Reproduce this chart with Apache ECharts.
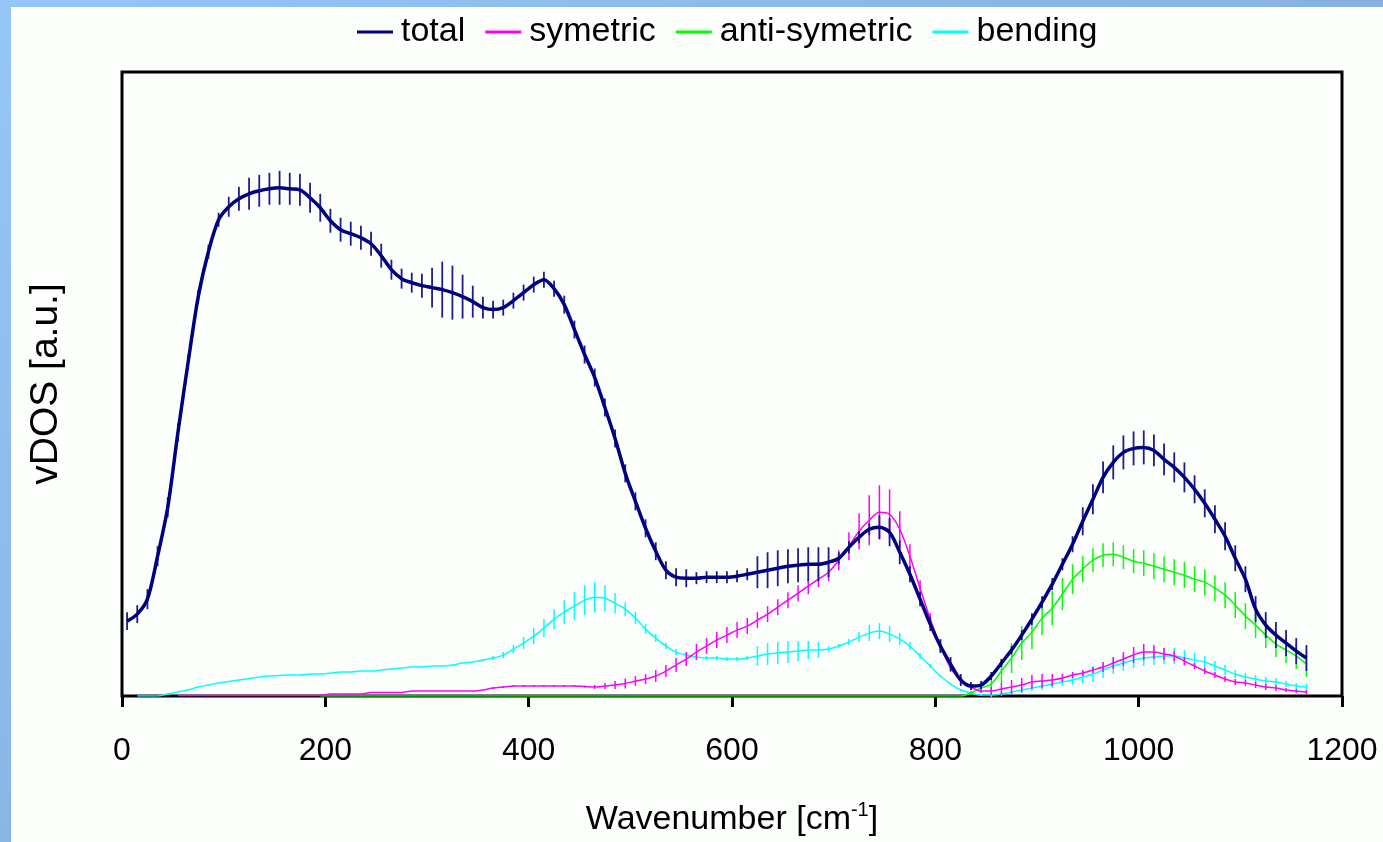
<!DOCTYPE html>
<html>
<head>
<meta charset="utf-8">
<script src="https://cdn.jsdelivr.net/npm/echarts@6/dist/echarts.min.js"></script>
<style>
html,body{margin:0;padding:0;background:#fdfffd;}
#chart{width:1383px;height:842px;}
</style>
</head>
<body>
<div id="chart"></div>
<script>
// Wavenumber samples [cm^-1]
const wavenumber = [
  5,15,25,35,45,55,65,75,85,95,
  105,115,125,135,145,155,165,175,185,195,
  205,215,225,235,245,255,265,275,285,295,
  305,315,325,335,345,355,365,375,385,395,
  405,415,425,435,445,455,465,475,485,495,
  505,515,525,535,545,555,565,575,585,595,
  605,615,625,635,645,655,665,675,685,695,
  705,715,725,735,745,755,765,775,785,795,
  805,815,825,835,845,855,865,875,885,895,
  905,915,925,935,945,955,965,975,985,995,
  1005,1015,1025,1035,1045,1055,1065,1075,1085,1095,
  1105,1115,1125,1135,1145,1155,1165
];
// vDOS values [a.u.]
const total = [
  75,82,97,140,189,264,334,400,445,477,
  490,498,503,506,508,509,508,507,499,489,
  476,467,463,459,453,441,427,418,414,411,
  409,407,404,400,395,389,387,389,396,404,
  412,417,408,392,367,342,319,289,258,223,
  195,168,145,126,119,118,118,119,119,119,
  120,122,124,126,128,130,131,132,132,134,
  138,149,159,167,169,164,144,122,97,72,
  50,32,16,10,11,20,33,46,61,77,
  94,112,132,152,175,197,219,234,244,248,
  249,246,237,229,219,207,193,177,160,138,
  117,87,71,61,53,45,38
];
const totalErr = [
  9,9,10,10,10,9,7,7,7,7,
  10,12,16,16,16,17,16,16,15,14,
  12,12,12,12,12,12,10,10,10,12,
  20,28,27,22,16,11,9,8,8,8,
  8,8,8,9,9,9,9,9,9,9,
  9,9,9,9,9,9,6,6,6,6,
  6,6,16,18,18,17,17,17,17,15,
  6,6,6,6,12,14,12,8,7,7,
  7,7,6,4,4,4,4,4,5,6,
  6,6,6,8,14,15,16,17,17,17,
  17,16,16,15,15,14,14,14,14,13,
  13,13,13,13,13,13,13
];
const symetric = [
  null,null,null,null,null,0.5,0.5,0.5,0.5,0.5,
  0.5,0.5,0.5,0.5,0.5,0.5,0.5,0.5,0.5,0.5,
  2,2,2,2,3.5,3.5,3.5,3.5,5,5,
  5,5,5,5,5,6,8,9,10,10,
  10,10,10,10,10,9.5,9,10,11,12.5,
  15,17,20,25,31,37,44,50,56,61,
  66,70,76,82,89,96,103,110,117,124,
  136,150,165,176,184,182,167,140,108,77,
  50,28,16,9,5,5,7,9,11,14,
  15,16,18,21,23,26,29,33,37,41,
  44,44,42,40,35,30,25,21,17,14,
  13,11,9,8,6,5,4
];
const symetricErr = [
  0,0,0,0,0,0,0,0,0,0,
  0,0,0,0,0,0,0,0,0,0,
  0,0,0,0,0,0,0,0,0,0,
  0,0,0,0,0,0,1,1,1,1,
  1,1,1,1,1,1,2,3,4,5,
  5,5,6,6,7,7,8,8,8,8,
  8,8,8,8,8,8,8,8,8,9,
  10,14,18,25,27,25,18,12,8,6,
  5,4,3,2,2,4,6,7,7,7,
  7,6,4,3,3,3,5,6,7,8,
  8,7,6,5,4,3,3,3,3,3,
  3,3,3,3,2,2,2
];
const antiSymetric = [
  null,null,null,null,null,null,null,null,null,null,
  null,null,null,null,null,null,null,null,null,0,
  0,0,0,0,0,0,0,0,0,0,
  0,0,0,0,0,0,0,0,0,0,
  0,0,0,0,0,0,0,0,0,0,
  0,0,0,0,0,0,0,0,0,0,
  0,0,0,0,0,0,0,0,0,0,
  0,0,0,0,0,0,0,0,0,0,
  0,0,0,3,8,12,25,38,53,64,
  78,88,102,117,127,136,141,142,139,135,
  133,130,127,124,121,117,114,108,101,91,
  80,71,61,52,46,40,32
];
const antiSymetricErr = [
  0,0,0,0,0,0,0,0,0,0,
  0,0,0,0,0,0,0,0,0,0,
  0,0,0,0,0,0,0,0,0,0,
  0,0,0,0,0,0,0,0,0,0,
  0,0,0,0,0,0,0,0,0,0,
  0,0,0,0,0,0,0,0,0,0,
  0,0,0,0,0,0,0,0,0,0,
  0,0,0,0,0,0,0,0,0,0,
  0,0,0,2,5,8,12,15,17,17,
  17,17,16,15,13,12,12,12,12,12,
  13,13,13,13,13,13,13,13,13,13,
  13,13,13,13,13,13,13
];
const bending = [
  null,0,0,0,2,4,6,9,11,13,
  14.5,16,17.5,19,20,20.5,21,21,22,22,
  23,24,24,25,25,26,27,28,29,29,
  30,30,31,33,34,36,38,41,47,53,
  60,68,77,84,90,96,99,98,93,87,
  78,67,58,50,44,41,39,38,38,37,
  37,38,40,42,43,44,45,46,46,47,
  50,54,59,63,65,62,57,50,40,30,
  20,12,6,3,1,1,2,4,6,8,
  10,12,14,16,19,22,26,30,33,36,
  38,39,40,40,38,36,34,30,26,22,
  19,17,15,14,12,10,9
];
const bendingErr = [
  0,0,0,0,0,0,0,0,0,0,
  0,0,0,0,0,0,0,0,0,0,
  0,0,0,0,0,0,0,0,0,0,
  0,0,0,0,0,1,2,3,4,6,
  8,9,10,12,14,15,15,13,10,7,
  6,5,4,3,3,2,2,2,2,2,
  2,2,10,11,11,11,10,9,8,3,
  2,3,5,8,8,8,6,4,3,2,
  1,1,1,1,1,2,2,2,3,3,
  4,4,4,5,6,8,8,8,8,8,
  8,8,8,8,8,7,6,5,5,4,
  4,4,4,4,3,3,3
];
const xTicks = [0, 200, 400, 600, 800, 1000, 1200];

const FONT = '"Liberation Sans", Arial, sans-serif';

function pairs(vals) {
  return wavenumber.map((w, i) => [w, vals[i]]);
}
function triples(vals, errs) {
  const out = [];
  wavenumber.forEach((w, i) => {
    if (vals[i] !== null && errs[i] > 0) out.push([w, vals[i], errs[i]]);
  });
  return out;
}
function errSeries(name, vals, errs, color, width, z) {
  return {
    name: name,
    type: 'custom',
    z: z,
    silent: true,
    data: triples(vals, errs),
    renderItem: function (params, api) {
      const x = api.value(0), y = api.value(1), e = api.value(2);
      const p1 = api.coord([x, y - e]);
      const p2 = api.coord([x, y + e]);
      return {
        type: 'line',
        shape: { x1: p1[0], y1: p1[1], x2: p2[0], y2: p2[1] },
        style: { stroke: color, lineWidth: width }
      };
    }
  };
}
function lineSeries(name, vals, color, width, z) {
  return {
    name: name,
    type: 'line',
    z: z,
    data: pairs(vals),
    showSymbol: false,
    symbol: 'none',
    smooth: 0.3,
    connectNulls: false,
    color: color,
    lineStyle: { color: color, width: width },
    emphasis: { disabled: true }
  };
}

const chart = echarts.init(document.getElementById('chart'), null, { renderer: 'canvas' });

const option = {
  backgroundColor: '#fdfffd',
  animation: false,
  graphic: [
    {
      type: 'rect', z: -10, silent: true,
      shape: { x: 0, y: 0, width: 1383, height: 7 },
      style: { fill: new echarts.graphic.LinearGradient(0, 0, 1, 0, [
        { offset: 0, color: '#94c6f7' }, { offset: 1, color: '#86b1e1' }]) }
    },
    {
      type: 'rect', z: -10, silent: true,
      shape: { x: 0, y: 0, width: 11, height: 842 },
      style: { fill: new echarts.graphic.LinearGradient(0, 0, 0, 1, [
        { offset: 0, color: '#94c6f7' }, { offset: 1, color: '#8ab6e6' }]) }
    }
  ],
  legend: {
    left: 357,
    top: 15,
    padding: 0,
    itemGap: 20,
    itemWidth: 36,
    itemHeight: 3,
    icon: 'rect',
    selectedMode: false,
    textStyle: { fontFamily: FONT, fontSize: 34, color: '#000', padding: [0, 0, 0, 3] },
    data: ['total', 'symetric', 'anti-symetric', 'bending']
  },
  grid: {
    left: 122, top: 72, right: 41, bottom: 145,
    show: true, borderColor: '#000', borderWidth: 3, backgroundColor: 'transparent'
  },
  xAxis: {
    type: 'value',
    min: 0, max: 1200, interval: 200,
    name: '{a|Wavenumber [cm}{s|-1}{a|]}',
    nameLocation: 'middle',
    nameGap: 104,
    nameTextStyle: {
      rich: {
        a: { fontFamily: FONT, fontSize: 34, color: '#000', lineHeight: 40 },
        s: { fontFamily: FONT, fontSize: 20, color: '#000', lineHeight: 22, verticalAlign: 'top' }
      }
    },
    axisLine: { show: false },
    axisTick: { show: true, inside: false, length: 11, lineStyle: { color: '#000', width: 3 } },
    axisLabel: {
      margin: 39, fontFamily: FONT, fontSize: 32, color: '#000',
      customValues: xTicks,
      formatter: function (v) { return String(v); }
    },
    splitLine: { show: false }
  },
  yAxis: {
    type: 'value',
    min: 0, max: 625,
    name: 'vDOS [a.u.]',
    nameLocation: 'middle',
    nameRotate: 90,
    nameGap: 56,
    nameTextStyle: { fontFamily: FONT, fontSize: 39, color: '#000' },
    axisLine: { show: false },
    axisTick: { show: false },
    axisLabel: { show: false },
    splitLine: { show: false }
  },
  series: [
    errSeries('bending-err', bending, bendingErr, '#00ffff', 1.5, 3),
    lineSeries('bending', bending, '#00ffff', 1.5, 3),
    errSeries('anti-err', antiSymetric, antiSymetricErr, '#00ff00', 1.5, 4),
    lineSeries('anti-symetric', antiSymetric, '#00ff00', 1.5, 4),
    errSeries('sym-err', symetric, symetricErr, '#ff00ff', 1.5, 5),
    lineSeries('symetric', symetric, '#ff00ff', 1.5, 5),
    errSeries('total-err', total, totalErr, '#1c1c8c', 1.8, 6),
    lineSeries('total', total, '#000080', 3.5, 7)
  ]
};
chart.setOption(option);
</script>
</body>
</html>
